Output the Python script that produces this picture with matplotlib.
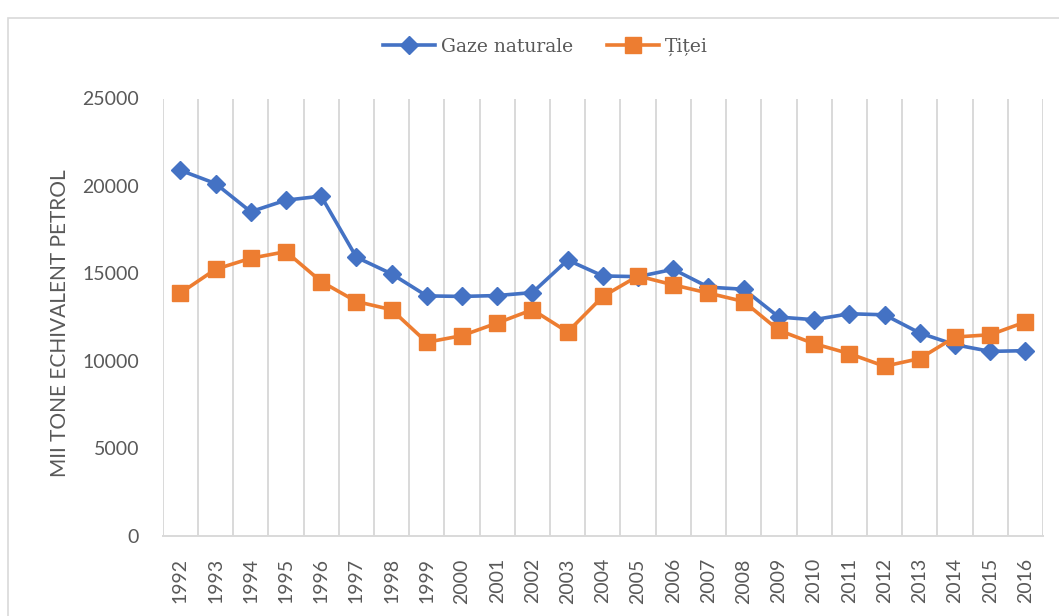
import numpy as np
import matplotlib
matplotlib.use("Agg")
import matplotlib.pyplot as plt
from matplotlib.patches import Rectangle

years = [str(y) for y in range(1992, 2017)]
gaze_naturale = [20900, 20140, 18530, 19190, 19420, 15930, 14980, 13720, 13690, 13740,
                 13910, 15770, 14860, 14820, 15240, 14220, 14100, 12510, 12360, 12700,
                 12640, 11600, 10930, 10550, 10590]
titei = [13880, 15240, 15870, 16250, 14540, 13400, 12930, 11070, 11450, 12170,
         12930, 11660, 13690, 14860, 14350, 13880, 13400, 11750, 10990, 10420,
         9700, 10140, 11370, 11500, 12230]
y_ticks = [0, 5000, 10000, 15000, 20000, 25000]

BLUE = "#4472C4"
ORANGE = "#ED7D31"
GREY_TXT = "#595959"
GRID = "#D9D9D9"

fig = plt.figure(figsize=(10.59, 6.16), dpi=100)
ax = fig.add_axes([162.7 / 1059, 1 - 536 / 616, (1043 - 162.7) / 1059, (536 - 98.5) / 616])

# chart outer border
fig.patches.append(Rectangle((8 / 1059, -0.2), 1.2, 1 - 18 / 616 + 0.2,
                             transform=fig.transFigure, fill=False,
                             edgecolor=GRID, linewidth=1.2))

x = np.arange(len(years))
ax.plot(x, gaze_naturale, color=BLUE, linewidth=2.6, marker="D", markersize=9,
        label="Gaze naturale")
ax.plot(x, titei, color=ORANGE, linewidth=2.6, marker="s", markersize=12,
        label="Țiței")

ax.set_xlim(-0.5, len(years) - 0.5)
ax.set_ylim(0, 25000)
ax.set_xticks(x)
ax.set_xticklabels(years, rotation=90, fontsize=14, color=GREY_TXT, family="Lato")
ax.set_yticks(y_ticks)
ax.set_yticklabels([str(v) for v in y_ticks], fontsize=14, color=GREY_TXT, family="Lato")
ax.tick_params(axis="both", length=0)
ax.tick_params(axis="x", pad=16)
ax.tick_params(axis="y", pad=17)

# vertical grid between categories
ax.set_xticks(np.arange(-0.5, len(years)), minor=True)
ax.tick_params(axis="x", which="minor", length=0)
ax.grid(True, which="minor", axis="x", color=GRID, linewidth=1.4)
ax.grid(False, which="major")

for s in ["top", "right", "left"]:
    ax.spines[s].set_visible(False)
ax.spines["bottom"].set_color(GRID)
ax.spines["bottom"].set_linewidth(1.4)

fig.text(60 / 1059, 1 - 323 / 616, "MII TONE ECHIVALENT PETROL", rotation=90,
         ha="center", va="center", fontsize=15, color=GREY_TXT, family="Lato")

leg = fig.legend(loc="center", bbox_to_anchor=(545 / 1059, 1 - 47 / 616), ncol=2,
                 frameon=False, prop={"family": "DejaVu Serif", "size": 13.5},
                 handlelength=2.8, columnspacing=1.8, handletextpad=0.3)
for t in leg.get_texts():
    t.set_color(GREY_TXT)

fig.savefig("out.png", dpi=100)
